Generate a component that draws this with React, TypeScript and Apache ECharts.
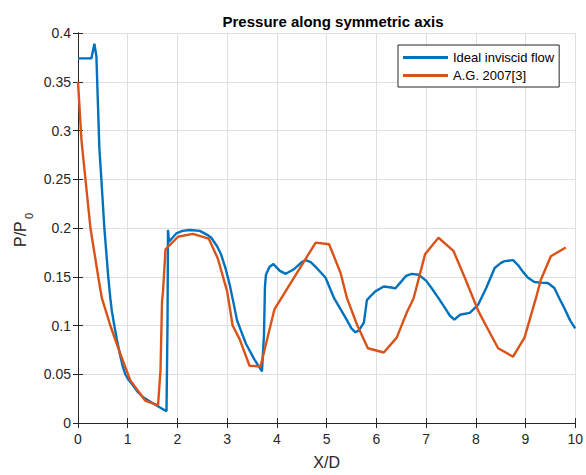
import React, { useEffect, useRef } from "react";
import * as echarts from "echarts";

const titleText = "Pressure along symmetric axis";
const seriesNames = ["Ideal inviscid flow", "A.G. 2007[3]"];

const blueX = [0, 0.27, 0.33, 0.37, 0.43, 0.47, 0.53, 0.61, 0.65, 0.68, 0.73, 0.78, 0.85, 0.9, 0.95, 1.02, 1.1, 1.2, 1.31, 1.45, 1.58, 1.78, 1.8, 1.81, 1.83, 1.9, 1.98, 2.1, 2.25, 2.45, 2.6, 2.68, 2.8, 2.88, 2.97, 3.05, 3.12, 3.2, 3.38, 3.55, 3.7, 3.74, 3.76, 3.78, 3.85, 3.93, 4.06, 4.18, 4.35, 4.5, 4.58, 4.68, 4.8, 4.98, 5.15, 5.38, 5.5, 5.58, 5.65, 5.75, 5.81, 5.9, 5.98, 6.15, 6.3, 6.38, 6.5, 6.6, 6.71, 6.85, 7.0, 7.11, 7.25, 7.38, 7.48, 7.57, 7.68, 7.88, 8.05, 8.21, 8.38, 8.5, 8.58, 8.75, 8.85, 8.95, 9.05, 9.18, 9.3, 9.45, 9.58, 9.68, 9.78, 9.9, 10];
const blueY = [0.374, 0.374, 0.389, 0.376, 0.281, 0.25, 0.2, 0.149, 0.128, 0.115, 0.1, 0.086, 0.069, 0.058, 0.05, 0.044, 0.039, 0.032, 0.0265, 0.022, 0.018, 0.012, 0.1, 0.198, 0.186, 0.19, 0.1946, 0.197, 0.198, 0.197, 0.193, 0.19, 0.181, 0.1725, 0.158, 0.142, 0.125, 0.105, 0.081, 0.065, 0.053, 0.09, 0.14, 0.152, 0.16, 0.163, 0.156, 0.153, 0.158, 0.165, 0.167, 0.165, 0.159, 0.149, 0.128, 0.108, 0.097, 0.093, 0.095, 0.103, 0.126, 0.131, 0.135, 0.14, 0.139, 0.138, 0.145, 0.151, 0.153, 0.152, 0.146, 0.1385, 0.128, 0.118, 0.11, 0.106, 0.111, 0.113, 0.1215, 0.1385, 0.159, 0.164, 0.166, 0.167, 0.162, 0.155, 0.149, 0.1446, 0.144, 0.1436, 0.1385, 0.128, 0.118, 0.105, 0.097];

const orangeX = [0, 0.07, 0.15, 0.25, 0.41, 0.48, 0.65, 0.85, 1.05, 1.35, 1.61, 1.66, 1.69, 1.71, 1.76, 2.01, 2.31, 2.63, 2.81, 3.0, 3.11, 3.25, 3.45, 3.67, 3.95, 4.78, 5.05, 5.28, 5.41, 5.61, 5.83, 6.15, 6.41, 6.61, 6.75, 6.98, 7.25, 7.55, 7.78, 8.05, 8.21, 8.45, 8.75, 8.98, 9.21, 9.31, 9.51, 9.81];
const orangeY = [0.35, 0.29, 0.25, 0.2, 0.149, 0.128, 0.1, 0.071, 0.044, 0.023, 0.018, 0.055, 0.125, 0.135, 0.178, 0.191, 0.194, 0.189, 0.169, 0.135, 0.1, 0.086, 0.0587, 0.058, 0.1165, 0.185, 0.1834, 0.154, 0.128, 0.101, 0.0767, 0.0723, 0.0876, 0.113, 0.128, 0.173, 0.19, 0.1766, 0.149, 0.115, 0.0995, 0.0767, 0.068, 0.0876, 0.128, 0.147, 0.171, 0.18];

const FONT = "'Liberation Sans', Arial, Helvetica, sans-serif";
const AXIS = "#262626";
const GRIDC = "#dfdfdf";

export default function App() {
  const ref = useRef<HTMLDivElement>(null);
  useEffect(() => {
    if (!ref.current) return;
    const chart = echarts.init(ref.current, undefined, { renderer: "svg" });
    const blue = blueX.map((x, i) => [x, blueY[i]]);
    const orange = orangeX.map((x, i) => [x, orangeY[i]]);
    const gridOpt = { left: 78, right: 8, top: 33, bottom: 49 };
    const hiddenAxisCommon = {
      axisLabel: { show: false },
      splitLine: { show: false },
      axisLine: { show: true, lineStyle: { color: AXIS, width: 1 } },
      axisTick: { show: true, inside: true, length: 5, lineStyle: { color: AXIS } },
    };
    chart.setOption({
      animation: false,
      backgroundColor: "#ffffff",
      textStyle: { fontFamily: FONT },
      title: {
        text: titleText,
        left: 328,
        textAlign: "center",
        top: 9,
        textStyle: { fontFamily: FONT, fontSize: 15, fontWeight: "bold", color: "#000" },
      },
      grid: gridOpt,
      legend: {
        orient: "vertical",
        left: 398,
        top: 45,
        padding: [6, 5, 5, 5],
        itemGap: 5,
        itemWidth: 45,
        itemHeight: 3,
        icon: "rect",
        borderColor: AXIS,
        borderWidth: 1,
        backgroundColor: "#fff",
        textStyle: { fontFamily: FONT, fontSize: 13, color: "#000", lineHeight: 13 },
        data: seriesNames,
      },
      xAxis: [
        {
          type: "value",
          min: 0,
          max: 10,
          interval: 1,
          position: "bottom",
          name: "X/D",
          nameLocation: "middle",
          nameGap: 31,
          nameTextStyle: { fontFamily: FONT, fontSize: 16, color: AXIS },
          axisLine: { show: true, lineStyle: { color: AXIS, width: 1 } },
          axisTick: { show: true, inside: true, length: 5, lineStyle: { color: AXIS } },
          axisLabel: { fontFamily: FONT, fontSize: 14, color: AXIS, margin: 9 },
          splitLine: { show: true, lineStyle: { color: GRIDC, width: 1 } },
        },
        { type: "value", min: 0, max: 10, interval: 1, position: "top", ...hiddenAxisCommon },
      ],
      yAxis: [
        {
          type: "value",
          min: 0,
          max: 0.4,
          interval: 0.05,
          position: "left",
          axisLine: { show: true, lineStyle: { color: AXIS, width: 1 } },
          axisTick: { show: true, inside: true, length: 5, lineStyle: { color: AXIS } },
          axisLabel: { fontFamily: FONT, fontSize: 14, color: AXIS, margin: 7 },
          splitLine: { show: true, lineStyle: { color: GRIDC, width: 1 } },
        },
        { type: "value", min: 0, max: 0.4, interval: 0.05, position: "right", ...hiddenAxisCommon },
      ],
      graphic: [
        {
          type: "group",
          x: 20,
          y: 247,
          rotation: Math.PI / 2,
          children: [
            {
              type: "text",
              x: 0,
              y: 0,
              style: { text: "P/P", font: `16px ${FONT}`, fill: AXIS, textAlign: "left", textVerticalAlign: "middle" },
            },
            {
              type: "text",
              x: 28,
              y: 9,
              style: { text: "0", font: `11px ${FONT}`, fill: AXIS, textAlign: "left", textVerticalAlign: "middle" },
            },
          ],
        },
      ],
      series: [
        {
          name: seriesNames[0],
          type: "line",
          data: blue,
          showSymbol: false,
          symbol: "none",
          lineStyle: { color: "#0072BD", width: 2.4 },
          itemStyle: { color: "#0072BD" },
          z: 3,
        },
        {
          name: seriesNames[1],
          type: "line",
          data: orange,
          showSymbol: false,
          symbol: "none",
          lineStyle: { color: "#D95319", width: 2.4 },
          itemStyle: { color: "#D95319" },
          z: 4,
        },
      ],
    });
    return () => chart.dispose();
  }, []);
  return <div ref={ref} style={{ width: 586, height: 475, position: "absolute", left: 0, top: 0 }} />;
}
